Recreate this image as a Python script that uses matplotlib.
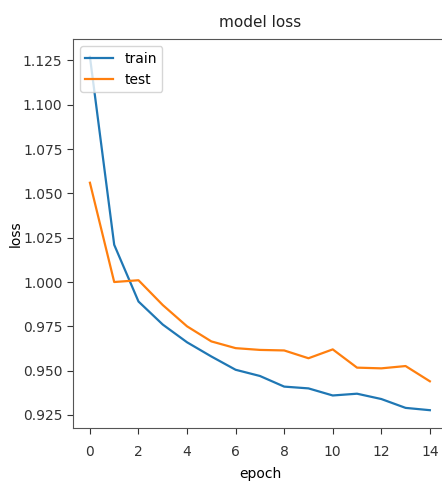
import matplotlib
matplotlib.use("Agg")
import matplotlib.pyplot as plt

epochs = list(range(15))
train_loss = [1.127, 1.021, 0.989, 0.976, 0.966, 0.958, 0.9505, 0.947, 0.941, 0.940,
              0.936, 0.937, 0.934, 0.929, 0.9277]
test_loss = [1.056, 1.000, 1.001, 0.987, 0.975, 0.9665, 0.9627, 0.9617, 0.9614, 0.957,
             0.962, 0.9517, 0.9513, 0.9526, 0.944]
yticks = [0.925, 0.950, 0.975, 1.000, 1.025, 1.050, 1.075, 1.100, 1.125]

plt.rcParams["font.family"] = ["DejaVu Sans"]

fig = plt.figure(figsize=(4.42, 4.84), dpi=100)
ax = fig.add_axes([0.165, 0.116, 0.846, 0.803])
ax.plot(epochs, train_loss, color="#1f77b4", lw=1.6, label="train")
ax.plot(epochs, test_loss, color="#ff7f0e", lw=1.6, label="test")
ax.set_xticks(range(0, 15, 2))
ax.set_yticks(yticks)
ax.set_yticklabels([f"{v:.3f}" for v in yticks])
ax.tick_params(labelsize=10, colors="#333333", length=4)
ax.tick_params(axis="x", pad=8)
for s in ax.spines.values():
    s.set_color("#555555")
ax.set_title("model loss", fontsize=11, color="#222222", pad=9)
ax.set_ylabel("loss", fontsize=10, labelpad=0)
ax.set_xlabel("epoch", fontsize=10, labelpad=6)
ax.legend(loc="upper left", fontsize=10)
fig.savefig("out.png", dpi=100)
